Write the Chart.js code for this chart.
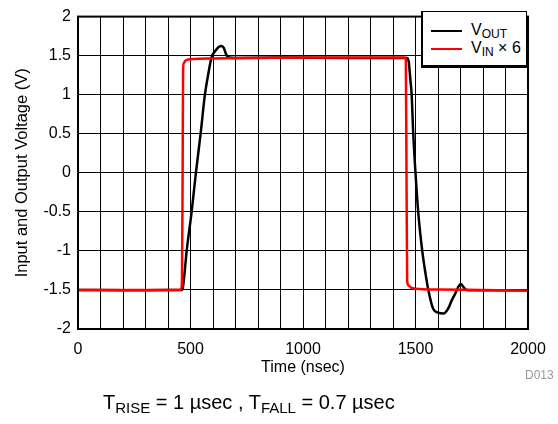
<!DOCTYPE html>
<html>
<head>
<meta charset="utf-8">
<script src="https://cdn.jsdelivr.net/npm/chart.js@4.4.0/dist/chart.umd.min.js"></script>
<style>
  html, body { margin: 0; padding: 0; background: #fff; }
  #wrap { position: relative; width: 558px; height: 424px; font-family: "Liberation Sans", Arial, sans-serif; }
  #chart { position: absolute; left: 0; top: 0; }
  .legend { position: absolute; left: 421px; top: 11px; width: 106px; height: 57px; background: #fff;
            border: 1.5px solid #000; border-left-width: 2px; border-bottom-width: 3px; box-sizing: border-box; }
  .legend .row { position: absolute; left: 8px; height: 18px; font-size: 16px; line-height: 18px; white-space: nowrap; }
  .legend .sw { display: inline-block; width: 31px; height: 2px; vertical-align: middle; margin-right: 9px; }
  sub { font-size: 12px; vertical-align: -3px; line-height: 0; }
  .caption { position: absolute; left: 103px; top: 391px; font-size: 20px; white-space: nowrap; color: #000; }
  .caption sub { font-size: 15px; vertical-align: -4px; }
  .tag { position: absolute; left: 525px; top: 368px; font-size: 12px; color: #999; }
</style>
</head>
<body>
<div id="wrap">
  <canvas id="chart" width="558" height="424"></canvas>
  <div class="legend">
    <div class="row" style="top:9px"><span class="sw" style="background:#000"></span>V<sub>OUT</sub></div>
    <div class="row" style="top:27px"><span class="sw" style="background:#ff0000"></span>V<sub>IN</sub> × 6</div>
  </div>
  <div class="tag">D013</div>
  <div class="caption">T<sub>RISE</sub> = 1 µsec , T<sub>FALL</sub> = 0.7 µsec</div>
</div>
<script>
// V_OUT trace (nsec, V)
const timeOut = [0, 200, 400, 462, 466, 472, 483, 505, 524, 545, 564, 578, 594, 610, 625, 638, 648, 658, 668, 700, 900, 1200, 1462, 1470, 1477, 1483, 1490, 1500, 1512, 1530, 1545, 1557, 1579, 1600, 1626, 1645, 1660, 1676, 1690, 1702, 1715, 1727, 1800, 2000]
const vOut    = [-1.5, -1.505, -1.5, -1.5, -1.47, -1.33, -1.0, -0.5, 0, 0.5, 1.0, 1.25, 1.48, 1.56, 1.61, 1.625, 1.6, 1.52, 1.48, 1.47, 1.475, 1.47, 1.47, 1.42, 1.2, 1.0, 0.5, 0, -0.5, -1.0, -1.3, -1.5, -1.745, -1.79, -1.8, -1.74, -1.64, -1.55, -1.46, -1.425, -1.47, -1.5, -1.505, -1.505]

// V_IN x 6 trace (nsec, V)
const timeIn = [0, 450, 458, 462, 465, 467, 470, 480, 500, 600, 800, 1000, 1452, 1457, 1460, 1463, 1468, 1480, 1500, 1600, 1800, 2000]
const vIn    = [-1.5, -1.5, -1.49, -1.4, 0, 1.3, 1.4, 1.44, 1.455, 1.465, 1.47, 1.475, 1.475, 1.44, 0, -1.38, -1.44, -1.47, -1.485, -1.495, -1.5, -1.51]

const xTicks = [0, 500, 1000, 1500, 2000]
const yTicks = [-2, -1.5, -1, -0.5, 0, 0.5, 1, 1.5, 2]

const toPts = (xs, ys) => xs.map((x, i) => ({x: x, y: ys[i]}))

// heavy frame round the plot area
const frame = {
    id: 'frame',
    afterDatasetsDraw(chart) {
        const a = chart.chartArea
        const ctx = chart.ctx
        ctx.save()
        ctx.strokeStyle = '#000'
        ctx.lineWidth = 2
        ctx.strokeRect(a.left, a.top, a.right - a.left, a.bottom - a.top)
        ctx.restore()
    }
}

const font = {family: '"Liberation Sans", Arial, sans-serif', size: 16}

new Chart(document.getElementById('chart'), {
    type: 'scatter',
    data: {
        datasets: [
            {
                label: 'VIN x 6',
                data: toPts(timeIn, vIn),
                showLine: true,
                borderColor: '#ff0000',
                borderWidth: 2.5,
                pointRadius: 0,
                cubicInterpolationMode: 'monotone',
                order: 0
            },
            {
                label: 'VOUT',
                data: toPts(timeOut, vOut),
                showLine: true,
                borderColor: '#000',
                borderWidth: 2.5,
                pointRadius: 0,
                cubicInterpolationMode: 'monotone',
                order: 1
            }
        ]
    },
    options: {
        responsive: false,
        devicePixelRatio: 1,
        animation: false,
        layout: { padding: {top: 12, right: 30, bottom: 47, left: 0} },
        plugins: {
            legend: { display: false },
            tooltip: { enabled: false }
        },
        scales: {
            x: {
                type: 'linear',
                min: 0,
                max: 2000,
                afterFit: s => { s.height = 48 },
                ticks: {
                    stepSize: 100,
                    autoSkip: false,
                    maxRotation: 0,
                    padding: 11,
                    color: '#000',
                    font: font,
                    callback: v => xTicks.includes(v) ? String(v) : ''
                },
                grid: { color: '#000', lineWidth: 1, drawTicks: false },
                border: { color: '#000', width: 2 },
                title: { display: true, text: 'Time (nsec)', color: '#000', font: font, padding: 0 }
            },
            y: {
                min: -2,
                max: 2,
                afterFit: s => { s.width = 78 },
                ticks: {
                    stepSize: 0.5,
                    padding: 7,
                    color: '#000',
                    font: font,
                    callback: v => yTicks.includes(v) ? String(v) : ''
                },
                grid: { color: '#000', lineWidth: 1, drawTicks: false },
                border: { color: '#000', width: 2 },
                title: { display: true, text: 'Input and Output Voltage (V)', color: '#000', font: {family: font.family, size: 16.5}, padding: {top: 13, bottom: 0} }
            }
        }
    },
    plugins: [frame]
})
</script>
</body>
</html>
